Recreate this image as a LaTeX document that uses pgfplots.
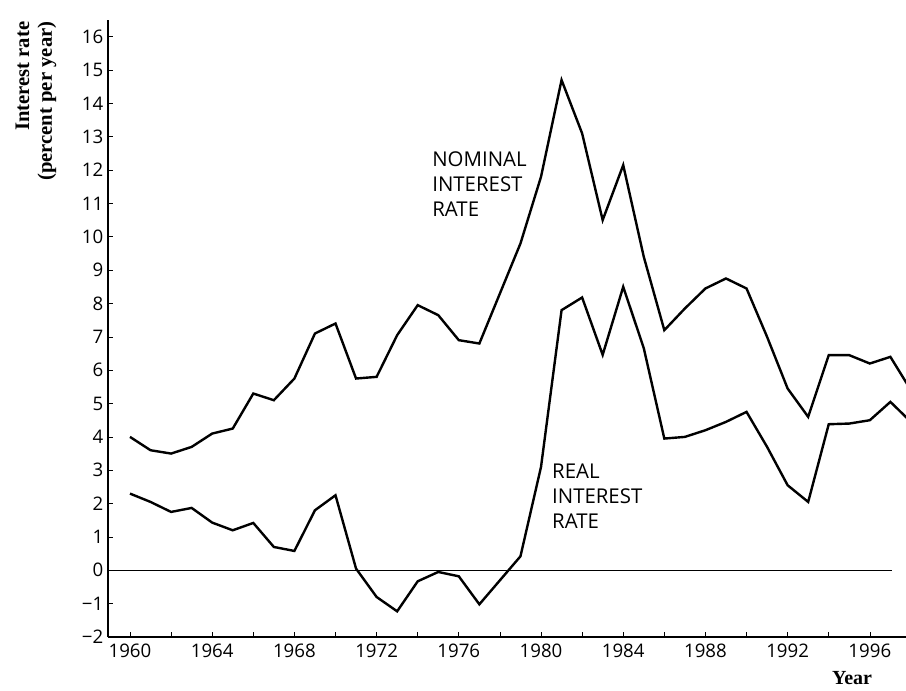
\documentclass[border=0pt]{standalone}
\usepackage{pgfplots}
\pgfplotsset{compat=1.18}
\usepackage{fontspec}
\setmainfont{Liberation Serif}
\newfontfamily\tickfont{Open Sans}
\pgfplotstableread{
year nominal real
1960 4.0 2.3
1961 3.6 2.05
1962 3.5 1.75
1963 3.7 1.87
1964 4.1 1.43
1965 4.25 1.2
1966 5.3 1.42
1967 5.1 0.7
1968 5.75 0.58
1969 7.1 1.8
1970 7.4 2.25
1971 5.75 0.05
1972 5.8 -0.8
1973 7.05 -1.23
1974 7.95 -0.33
1975 7.65 -0.05
1976 6.9 -0.18
1977 6.8 -1.02
1978 8.3 -0.3
1979 9.8 0.42
1980 11.8 3.1
1981 14.7 7.8
1982 13.1 8.18
1983 10.5 6.46
1984 12.15 8.5
1985 9.4 6.66
1986 7.2 3.95
1987 7.85 4.0
1988 8.45 4.2
1989 8.75 4.45
1990 8.45 4.75
1991 7.0 3.7
1992 5.45 2.55
1993 4.6 2.05
1994 6.45 4.38
1995 6.45 4.4
1996 6.2 4.5
1997 6.4 5.05
1998 5.4 4.45
}\datatable
\begin{document}
\begin{tikzpicture}
\begin{axis}[
  name=ax,
  scale only axis,
  width=598.5pt, height=462.75pt,
  xmin=1958.93, xmax=1997.76,
  ymin=-2, ymax=16.5,
  axis lines=left,
  axis line style={-, line width=1pt},
  tick style={line width=0.5pt, black},
  tick align=inside,
  major tick length=4pt, minor tick length=4pt,
  xtick={1960,1964,...,1996},
  minor xtick={1962,1966,...,1994},
  ytick={-2,-1,...,16},
  yticklabels={−2,−1,0,1,2,3,4,5,6,7,8,9,10,11,12,13,14,15,16},
  xticklabel style={font=\tickfont\fontsize{14}{15}\selectfont, yshift=-2pt},
  xticklabel={\pgfmathprintnumber[1000 sep={},assume math mode=true]{\tick}},
  yticklabel style={font=\tickfont\fontsize{14}{15}\selectfont},
  clip=true,
  clip mode=individual,
]
\addplot[black, line width=0.6pt] coordinates {(1958.93,0) (1997.1,0)};
\addplot[black, line width=1.8pt] table[x=year, y=nominal] {\datatable};
\addplot[black, line width=1.8pt] table[x=year, y=real] {\datatable};
\node[anchor=north west, align=left, inner sep=0pt, font=\tickfont\fontsize{15.3}{18.75}\selectfont] at (axis cs:1974.7,12.55) {NOMINAL\\INTEREST\\RATE};
\node[anchor=north west, align=left, inner sep=0pt, font=\tickfont\fontsize{15.3}{18.75}\selectfont] at (axis cs:1980.53,3.2) {REAL\\INTEREST\\RATE};
\end{axis}
\node[rotate=90, anchor=east, align=right, inner sep=0pt, font=\bfseries\fontsize{15.5}{17}\selectfont] at ([xshift=-54pt,yshift=-1pt]ax.north west) {Interest rate\\(percent per year)};
\node[anchor=center, inner sep=0pt, font=\bfseries\fontsize{15}{17}\selectfont] at ([xshift=558pt,yshift=-30.5pt]ax.south west) {Year};
\pgfresetboundingbox
\path ([xshift=-81pt,yshift=-39.75pt]ax.south west) rectangle ([yshift=15pt]ax.north east);
\end{tikzpicture}
\end{document}
